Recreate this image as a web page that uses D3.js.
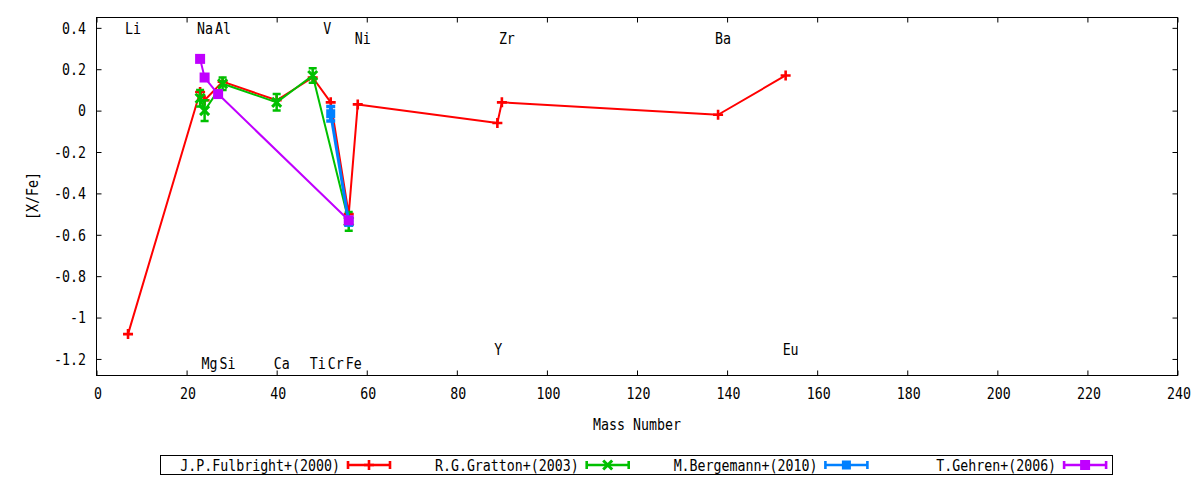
<!DOCTYPE html>
<html><head><meta charset="utf-8">
<script src="https://cdn.jsdelivr.net/npm/d3@7"></script>
<style>body{margin:0;background:#fff} text{font-family:"DejaVu Sans Mono",monospace;font-size:16px;fill:#000}</style>
</head><body><svg id="c" width="1200" height="480"></svg>
<script>
// ---- data ----
const xTicks = [0,20,40,60,80,100,120,140,160,180,200,220,240];
const yTicks = [-1.2,-1,-0.8,-0.6,-0.4,-0.2,0,0.2,0.4];
const yTickLabels = ["-1.2","-1","-0.8","-0.6","-0.4","-0.2","0","0.2","0.4"];

const fulbrightMass = [7,23,24,28,40,48,52,56,58,89,90,138,153];
const fulbrightVal  = [-1.08,0.09,0.05,0.14,0.05,0.16,0.04,-0.50,0.03,-0.06,0.04,-0.02,0.17];
const fulbrightErr  = [0,0,0,0,0,0,0,0,0,0,0,0,0];

const grattonMass = [23,24,28,40,48,56];
const grattonVal  = [0.06,0.0,0.13,0.04,0.17,-0.535];
const grattonErr  = [0.04,0.05,0.03,0.04,0.035,0.045];

const bergemannMass = [52,56];
const bergemannVal  = [-0.015,-0.54];
const bergemannErr  = [0.035,0.01];

const gehrenMass = [23,24,27,56];
const gehrenVal  = [0.25,0.16,0.08,-0.53];
const gehrenErr  = [0,0,0,0];

const seriesNames = ["J.P.Fulbright+(2000)","R.G.Gratton+(2003)","M.Bergemann+(2010)","T.Gehren+(2006)"];

const elemNames = ["Li","Na","Al","V","Ni","Zr","Ba","Mg","Si","Ca","Ti","Cr","Fe","Y","Eu"];
const elemMass  = [7,23,27,51,58,90,138,24,28,40,48,52,56,89,153];
const elemY     = [0.4,0.4,0.4,0.4,0.35,0.35,0.35,-1.22,-1.22,-1.22,-1.22,-1.22,-1.22,-1.155,-1.155];

// ---- styles ----
const colors = ["#ff0000","#00c000","#0080ff","#c000ff"];
const markers = ["plus","x","square9","square10"];

const svg = d3.select("#c");
const L=96.5, R=1177.5, T=17.5, B=375.5;
const x = d3.scaleLinear().domain([0,240]).range([L,R]);
const y = d3.scaleLinear().domain([-1.28,0.45]).range([B,T]);
const SX = 0.83;

function txt(parent, px, py, s, anchor, rot){
  return parent.append("text")
    .attr("transform", `translate(${px},${py})${rot?` rotate(${rot})`:""} scale(${SX},1)`)
    .attr("text-anchor", anchor||"start")
    .attr("dy","0.36em")
    .text(s);
}

// axes with d3 axis generators (inward ticks, mirrored)
const axB = d3.axisBottom(x).tickValues(xTicks).tickSize(-5).tickFormat("");
const axT = d3.axisTop(x).tickValues(xTicks).tickSize(-5).tickFormat("");
const axLf = d3.axisLeft(y).tickValues(yTicks).tickSize(-5).tickFormat("");
const axRt = d3.axisRight(y).tickValues(yTicks).tickSize(-5).tickFormat("");
function styleAx(g){ g.selectAll("path").remove(); g.selectAll("line").attr("stroke","#000"); }
svg.append("g").attr("transform",`translate(0,${B})`).call(axB).call(styleAx);
svg.append("g").attr("transform",`translate(0,${T})`).call(axT).call(styleAx);
svg.append("g").attr("transform",`translate(${L},0)`).call(axLf).call(styleAx);
svg.append("g").attr("transform",`translate(${R},0)`).call(axRt).call(styleAx);
svg.append("rect").attr("x",L).attr("y",T).attr("width",R-L).attr("height",B-T)
  .attr("fill","none").attr("stroke","#000").attr("stroke-width",1);

const tl = svg.append("g");
xTicks.forEach(v=>txt(tl, x(v)+1.5, B+17.5, String(v), "middle"));
yTicks.forEach((v,i)=>txt(tl, L-10.5, y(v), yTickLabels[i], "end"));
txt(tl, (L+R)/2, 424.5, "Mass Number", "middle");
txt(tl, 32, 196, "[X/Fe]", "middle", -90);

// element labels
const el = svg.append("g");
elemNames.forEach((n,i)=>txt(el, x(elemMass[i])-3, y(elemY[i]), n, "start"));

// marker drawing
function drawMarker(g, kind, cx, cy, col){
  if(kind==="plus"){
    g.append("path").attr("d",`M${cx-5},${cy}H${cx+5}M${cx},${cy-5}V${cy+5}`)
      .attr("stroke",col).attr("stroke-width",2.6).attr("fill","none");
  } else if(kind==="x"){
    g.append("path").attr("d",`M${cx-4.5},${cy-4.5}L${cx+4.5},${cy+4.5}M${cx-4.5},${cy+4.5}L${cx+4.5},${cy-4.5}`)
      .attr("stroke",col).attr("stroke-width",3).attr("fill","none");
  } else {
    const s = kind==="square9"?9:10;
    g.append("rect").attr("x",cx-s/2).attr("y",cy-s/2).attr("width",s).attr("height",s).attr("fill",col);
  }
}

const all = [
  [fulbrightMass,fulbrightVal,fulbrightErr],
  [grattonMass,grattonVal,grattonErr],
  [bergemannMass,bergemannVal,bergemannErr],
  [gehrenMass,gehrenVal,gehrenErr]
];
const line = d3.line().x(d=>x(d[0])).y(d=>y(d[1]));
all.forEach((s,si)=>{
  const g = svg.append("g");
  const pts = s[0].map((m,i)=>[m,s[1][i],s[2][i]]);
  const col = colors[si];
  g.append("path").attr("d",line(pts)).attr("fill","none").attr("stroke",col)
    .attr("stroke-width", si===2?3:2).attr("stroke-linejoin","round");
  pts.forEach(p=>{
    if(p[2]>0){
      const cx=x(p[0]), y0=y(p[1]-p[2]), y1=y(p[1]+p[2]);
      const cw = si===2?4.5:4;
      g.append("path").attr("d",`M${cx},${y0}V${y1}M${cx-cw},${y0}H${cx+cw}M${cx-cw},${y1}H${cx+cw}`)
        .attr("stroke",col).attr("stroke-width",si===2?3.5:2.5).attr("fill","none");
    }
    drawMarker(g, markers[si], x(p[0]), y(p[1]), col);
  });
});

// legend
const lg = svg.append("g");
lg.append("rect").attr("x",160.5).attr("y",455.5).attr("width",952).attr("height",19)
  .attr("fill","#fff").attr("stroke","#000").attr("stroke-width",1);
seriesNames.forEach((n,i)=>{
  const tx = 340 + i*238.7, ly = 465;
  txt(lg, tx, ly, n, "end");
  const x0 = tx+8, x1 = tx+50, col = colors[i];
  lg.append("path").attr("d",`M${x0},${ly}H${x1}M${x0},${ly-4}V${ly+4}M${x1},${ly-4}V${ly+4}`)
    .attr("stroke",col).attr("stroke-width",2.6).attr("fill","none");
  drawMarker(lg, markers[i], (x0+x1)/2, ly, col);
});
</script></body></html>
